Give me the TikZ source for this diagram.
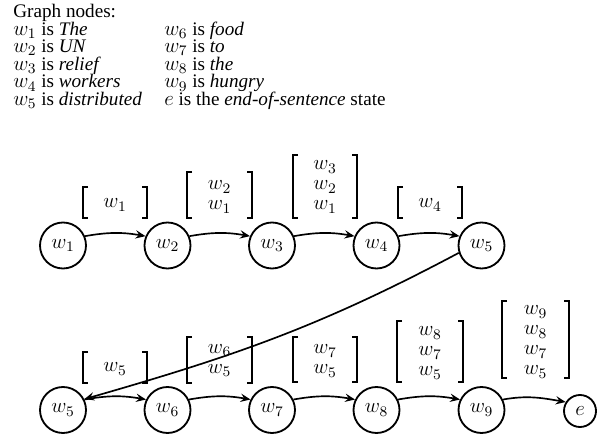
\documentclass[tikz,border=0pt]{standalone}
\usepackage{fix-cm}
\usepackage[no-math]{fontspec}
\setmainfont{Liberation Serif}
\usetikzlibrary{arrows.meta}
\newcommand\brkt[4]{%
  \draw[brk] (#1+5,#3) -- (#1,#3) -- (#1,#4) -- (#1+5,#4);
  \draw[brk] (#2-5,#3) -- (#2,#3) -- (#2,#4) -- (#2-5,#4);}
\newcommand\hm[1]{{\fontsize{12.5}{13}\selectfont$#1$}}
\begin{document}
\begin{tikzpicture}[x=0.6pt,y=-0.6pt,
  state/.style={circle,draw,line width=1.1pt,minimum size=27.6pt,inner sep=0pt,font=\fontsize{12.5}{12}\selectfont},
  endstate/.style={state,minimum size=19.2pt},
  hdr/.style={anchor=base west,inner sep=0pt,font=\fontsize{11.5}{13}\selectfont},
  stack/.style={align=center,inner sep=0pt,font=\fontsize{12.5}{12}\selectfont},
  brk/.style={line width=0.65pt},
  edge/.style={-{Stealth[length=6pt,width=5pt,inset=2.2pt]},line width=1pt}
]
\useasboundingbox (0,0) rectangle (600,437);
% header
\node[hdr] (h0) at (13,17.5) {Graph nodes:};
\node[hdr] (h1) at (13,35.1) {\hm{w_1} is \textit{The}};
\node[hdr] (h2) at (13,52.7) {\hm{w_2} is \textit{UN}};
\node[hdr] (h3) at (13,70.3) {\hm{w_3} is \textit{relief}};
\node[hdr] (h4) at (13,87.9) {\hm{w_4} is \textit{workers}};
\node[hdr] (h5) at (13,105.5) {\hm{w_5} is \textit{distributed}};
\node[hdr] (h6) at (164,35.1) {\hm{w_6} is \textit{food}};
\node[hdr] (h7) at (164,52.7) {\hm{w_7} is \textit{to}};
\node[hdr] (h8) at (164,70.3) {\hm{w_8} is \textit{the}};
\node[hdr] (h9) at (164,87.9) {\hm{w_9} is \textit{hungry}};
\node[hdr] (he) at (164,105.5) {\hm{e} is the \textit{end-of-sentence} state};
% states
\node[state] (a1) at (63,245.5) {$w_1$};
\node[state] (a2) at (167.5,245.5) {$w_2$};
\node[state] (a3) at (272,245.5) {$w_3$};
\node[state] (a4) at (376.5,245.5) {$w_4$};
\node[state] (a5) at (481.5,245.5) {$w_5$};
\node[state] (b5) at (63,410) {$w_5$};
\node[state] (b6) at (167.5,410) {$w_6$};
\node[state] (b7) at (272,410) {$w_7$};
\node[state] (b8) at (376.5,410) {$w_8$};
\node[state] (b9) at (481.5,410) {$w_9$};
\node[endstate] (e) at (580,411) {$e$};
% edges
\draw[edge] (a1.23) to[out=10,in=170] (a2.157);
\draw[edge] (a2.23) to[out=10,in=170] (a3.157);
\draw[edge] (a3.23) to[out=10,in=170] (a4.157);
\draw[edge] (a4.23) to[out=10,in=170] (a5.157);
\draw[edge] (a5.198) to[out=208,in=16] (b5.27);
\draw[edge] (b5.26) to[out=10,in=170] (b6.154);
\draw[edge] (b6.26) to[out=10,in=170] (b7.154);
\draw[edge] (b7.26) to[out=10,in=170] (b8.154);
\draw[edge] (b8.26) to[out=10,in=170] (b9.154);
\draw[edge] (b9.26) to[out=10,in=170] (e.148);
% stacks top
\node[stack] (s1) at (115,205) {$w_1$};
\node[stack] (s2) at (219.5,197) {$w_2$\\$w_1$};
\node[stack] (s3) at (325,187) {$w_3$\\$w_2$\\$w_1$};
\node[stack] (s4) at (430,205) {$w_4$};
\brkt{83}{147}{187}{218}
\brkt{187}{252}{172}{218}
\brkt{293}{357}{155}{218}
\brkt{398}{462}{187}{218}
% stacks bottom
\node[stack] (t1) at (115,369) {$w_5$};
\node[stack] (t2) at (219.5,360.5) {$w_6$\\$w_5$};
\node[stack] (t3) at (325,361) {$w_7$\\$w_5$};
\node[stack] (t4) at (430,353) {$w_8$\\$w_7$\\$w_5$};
\node[stack] (t5) at (535.5,342) {$w_9$\\$w_8$\\$w_7$\\$w_5$};
\brkt{83}{147}{352}{383}
\brkt{187}{252}{337}{383}
\brkt{293}{357}{337}{382}
\brkt{397}{463}{321}{382}
\brkt{502}{569}{301}{378}
\end{tikzpicture}
\end{document}
